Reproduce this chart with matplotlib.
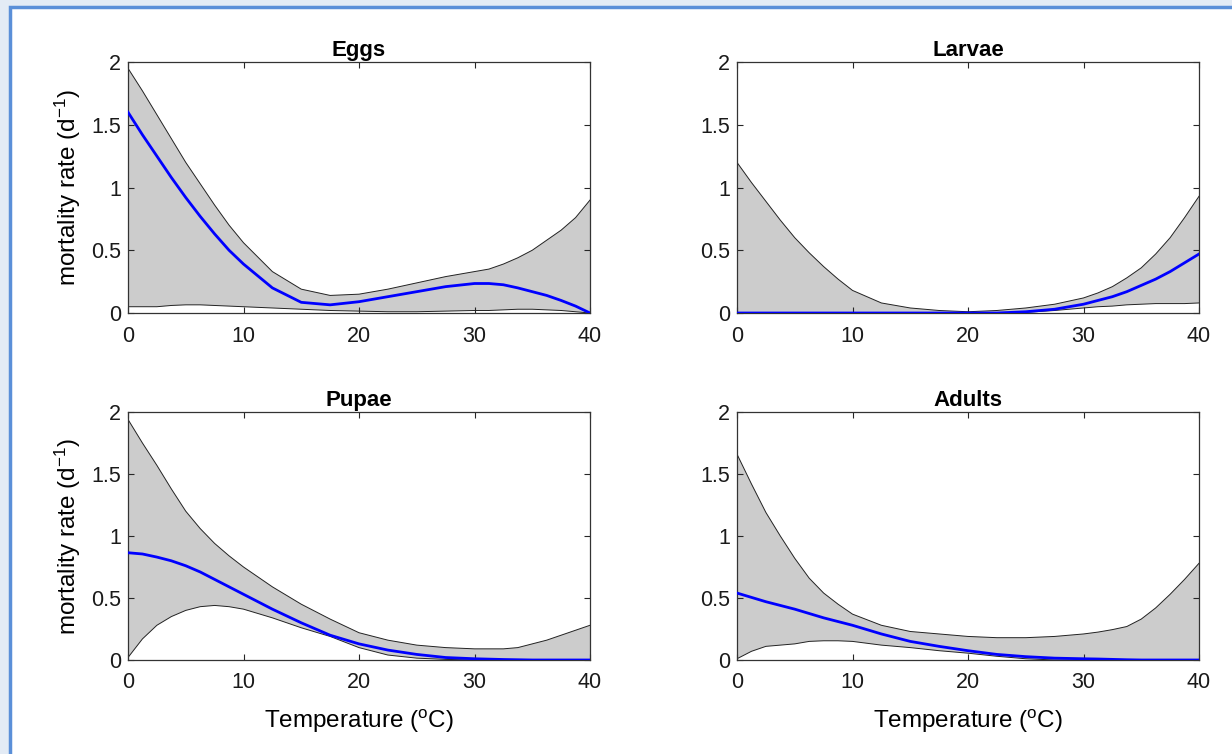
import matplotlib.pyplot as plt
from matplotlib.patches import Rectangle
from matplotlib.ticker import FormatStrFormatter

plt.rcParams["font.family"] = ["Liberation Sans", "DejaVu Sans"]
plt.rcParams["mathtext.fontset"] = "custom"
plt.rcParams["mathtext.rm"] = "Liberation Sans"
plt.rcParams["mathtext.default"] = "regular"

temps = [0, 1.25, 2.5, 3.75, 5, 6.25, 7.5, 8.75, 10, 12.5, 15, 17.5, 20, 22.5, 25, 27.5,
         30, 31.25, 32.5, 33.75, 35, 36.25, 37.5, 38.75, 40]

stages = ["Eggs", "Larvae", "Pupae", "Adults"]

eggs_upper = [1.95, 1.77, 1.58, 1.39, 1.2, 1.03, 0.86, 0.7, 0.56, 0.33, 0.19, 0.14, 0.15, 0.19, 0.24, 0.29,
              0.33, 0.35, 0.39, 0.44, 0.5, 0.58, 0.66, 0.76, 0.9]
eggs_mean = [1.6, 1.42, 1.25, 1.08, 0.92, 0.77, 0.63, 0.5, 0.39, 0.2, 0.085, 0.065, 0.09, 0.13, 0.17, 0.21,
             0.235, 0.235, 0.225, 0.2, 0.17, 0.14, 0.1, 0.055, 0.0]
eggs_lower = [0.05, 0.05, 0.05, 0.06, 0.065, 0.065, 0.06, 0.055, 0.05, 0.04, 0.03, 0.02, 0.015, 0.01, 0.01, 0.015,
              0.02, 0.02, 0.025, 0.03, 0.03, 0.025, 0.02, 0.01, 0.0]

larvae_upper = [1.2, 1.04, 0.89, 0.74, 0.6, 0.48, 0.37, 0.27, 0.18, 0.08, 0.04, 0.02, 0.01, 0.02, 0.04, 0.07,
                0.12, 0.16, 0.21, 0.28, 0.36, 0.47, 0.6, 0.76, 0.93]
larvae_mean = [0, 0, 0, 0, 0, 0, 0, 0, 0, 0, 0, 0, 0, 0, 0.01, 0.03,
               0.07, 0.1, 0.13, 0.17, 0.22, 0.27, 0.33, 0.4, 0.47]
larvae_lower = [0, 0, 0, 0, 0, 0, 0, 0, 0, 0, 0, 0, 0, 0, 0.005, 0.02,
                0.04, 0.05, 0.055, 0.065, 0.07, 0.075, 0.075, 0.075, 0.08]

pupae_upper = [1.94, 1.75, 1.57, 1.38, 1.2, 1.06, 0.94, 0.84, 0.75, 0.59, 0.45, 0.33, 0.22, 0.16, 0.12, 0.1,
               0.09, 0.09, 0.09, 0.1, 0.13, 0.16, 0.2, 0.24, 0.28]
pupae_mean = [0.865, 0.855, 0.83, 0.8, 0.76, 0.71, 0.65, 0.59, 0.53, 0.41, 0.3, 0.2, 0.13, 0.08, 0.045, 0.02,
              0.01, 0.007, 0.004, 0.002, 0, 0, 0, 0, 0]
pupae_lower = [0.02, 0.17, 0.28, 0.35, 0.4, 0.43, 0.44, 0.43, 0.41, 0.34, 0.26, 0.19, 0.1, 0.04, 0.015, 0.005,
               0, 0, 0, 0, 0, 0, 0, 0, 0]

adults_upper = [1.66, 1.42, 1.19, 1.0, 0.82, 0.66, 0.54, 0.45, 0.37, 0.28, 0.23, 0.21, 0.19, 0.18, 0.18, 0.19,
                0.21, 0.225, 0.245, 0.27, 0.33, 0.42, 0.53, 0.65, 0.78]
adults_mean = [0.54, 0.505, 0.47, 0.44, 0.41, 0.375, 0.34, 0.31, 0.28, 0.21, 0.15, 0.11, 0.075, 0.045, 0.027, 0.015,
               0.01, 0.008, 0.005, 0.002, 0, 0, 0, 0, 0]
adults_lower = [0.01, 0.07, 0.11, 0.12, 0.13, 0.15, 0.155, 0.155, 0.15, 0.12, 0.1, 0.075, 0.055, 0.03, 0.01, 0,
                0, 0, 0, 0, 0, 0, 0, 0, 0]

series = [
    (eggs_lower, eggs_mean, eggs_upper),
    (larvae_lower, larvae_mean, larvae_upper),
    (pupae_lower, pupae_mean, pupae_upper),
    (adults_lower, adults_mean, adults_upper),
]

W, H = 1232, 754
fig = plt.figure(figsize=(W / 100, H / 100), dpi=100, facecolor="#e3ebf5")

# white panel with blue border, like the page screenshot
fig.patches.append(Rectangle((10 / W, -0.1), 1.2, 1 - 7 / H + 0.1, transform=fig.transFigure,
                             facecolor="white", edgecolor="#5a8fd8", linewidth=2.5, zorder=-10))

lefts = [128, 737, 128, 737]
tops = [62, 62, 412, 412]
bottoms = [313, 313, 660, 660]
axw = 462

for i, (name, (lo, mid, up)) in enumerate(zip(stages, series)):
    l, t, b = lefts[i], tops[i], bottoms[i]
    ax = fig.add_axes([l / W, 1 - b / H, axw / W, (b - t) / H])
    ax.fill_between(temps, lo, up, facecolor="#cccccc", edgecolor="none", zorder=1)
    ax.plot(temps, up, color="#222222", lw=0.7, zorder=2)
    ax.plot(temps, lo, color="#222222", lw=0.7, zorder=2)
    ax.plot(temps, mid, color="#0000ff", lw=2.0, zorder=3)

    ax.set_xlim(0, 40)
    ax.set_ylim(0, 2)
    ax.set_xticks([0, 10, 20, 30, 40])
    ax.set_yticks([0, 0.5, 1, 1.5, 2])
    ax.yaxis.set_major_formatter(FormatStrFormatter("%g"))
    ax.tick_params(direction="in", length=4, width=0.8, top=True, right=True,
                   labelsize=15.5, colors="#262626", labelcolor="#1a1a1a")
    ax.tick_params(axis="x", pad=9)
    ax.tick_params(axis="y", pad=5)
    for s in ax.spines.values():
        s.set_color("#333333")
        s.set_linewidth(0.9)
    ax.set_title(name, fontsize=16, fontweight="bold", pad=4)
    if i % 2 == 0:
        ax.set_ylabel("mortality rate (d$^{-1}$)", fontsize=17.5, labelpad=6)
    if i >= 2:
        ax.set_xlabel("Temperature ($^{o}$C)", fontsize=17.5, labelpad=10)

fig.savefig("out.png", dpi=100, facecolor=fig.get_facecolor())
